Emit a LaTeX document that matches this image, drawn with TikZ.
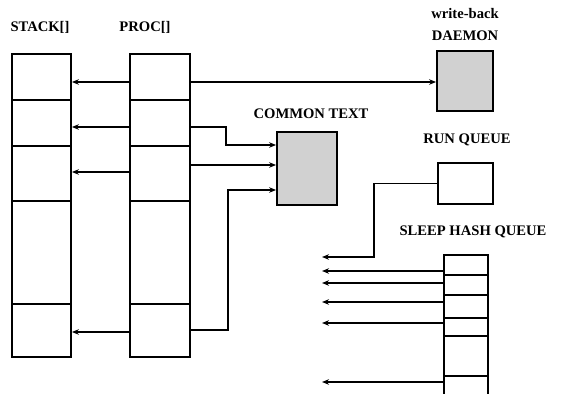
\documentclass[tikz,border=0pt]{standalone}
\usepackage{fontspec}
\setmainfont{Liberation Serif}
\usetikzlibrary{calc,arrows.meta}

\tikzset{
	cell/.style={draw, line width=1.8pt, inner sep=0pt},
	shade box/.style={cell, fill=black!18},
	lbl/.style={font=\fontsize{14.6}{17}\selectfont\bfseries, inner sep=0pt},
	link/.style={line width=1.5pt, ->},
}

\begin{document}
\begin{tikzpicture}[x=1pt,y=-1pt,>={Stealth[length=7pt,width=5.5pt]}]
			\useasboundingbox (0,0) rectangle (561,393);
			\clip (0,0) rectangle (561,393);
			
			% the two tables
			\foreach \n/\yc/\h in {1/77/46, 2/123/46, 3/173.5/55, 4/252.5/103, 5/330.5/53}{
				\node[cell, minimum width=59, minimum height=\h] (s\n) at (41.5,\yc) {};
				\node[cell, minimum width=60, minimum height=\h] (p\n) at (160,\yc) {};
			}
			\node[lbl] (stacklbl) at (40,27) {STACK[]};
			\node[lbl] (proclbl) at (145,27) {PROC[]};
			
			\node[shade box, minimum width=56, minimum height=60] (daemon) at (465,81) {};
			\node[lbl] (wblbl) at (465,14) {write-back};
			\node[lbl] (daemonlbl) at (465,36) {DAEMON};
			
			\node[shade box, minimum width=60, minimum height=73] (common) at (307,168.5) {};
			\node[lbl] (commonlbl) at (311,114) {COMMON TEXT};
			
			\node[cell, minimum width=55, minimum height=41] (run) at (465.5,183.5) {};
			\node[lbl] (runlbl) at (467,140) {RUN QUEUE};
			
			\foreach \n/\yc/\h in {1/265/20, 2/285/20, 3/306.5/23, 4/327/18, 5/356/40, 6/388/24}
				\node[cell, minimum width=44, minimum height=\h] (h\n) at (466,\yc) {};
			\node[lbl] (sleeplbl) at (473,232) {SLEEP HASH QUEUE};
			
			% proc -> stack
			\foreach \n/\y in {1/82, 2/127, 3/172, 5/332}
				\draw[link] (p\n.west |- 0,\y) -- (s\n.east |- 0,\y);
			
			\draw[link] (p1.east |- 0,82) -- (daemon.west |- 0,82);
			\draw[link] (p2.east |- 0,127) -- ++(35,0) |- (common.west |- 0,145);
			\draw[link] (p3.east |- 0,165) -- (common.west |- 0,165);
			\draw[link] (p5.east |- 0,330) -- ++(37,0) |- (common.west |- 0,190);
			
			\coordinate (rqend) at (322,257);
			\draw[link] (run.west) -- ++(-63,0) |- (rqend);
			
			\foreach \n/\y in {1/271, 2/283, 3/302, 4/323, 6/382}{
				\coordinate (e\n) at (322,\y);
				\draw[link] (h\n.west |- 0,\y) -- (e\n);
			}
		\end{tikzpicture}
\end{document}
